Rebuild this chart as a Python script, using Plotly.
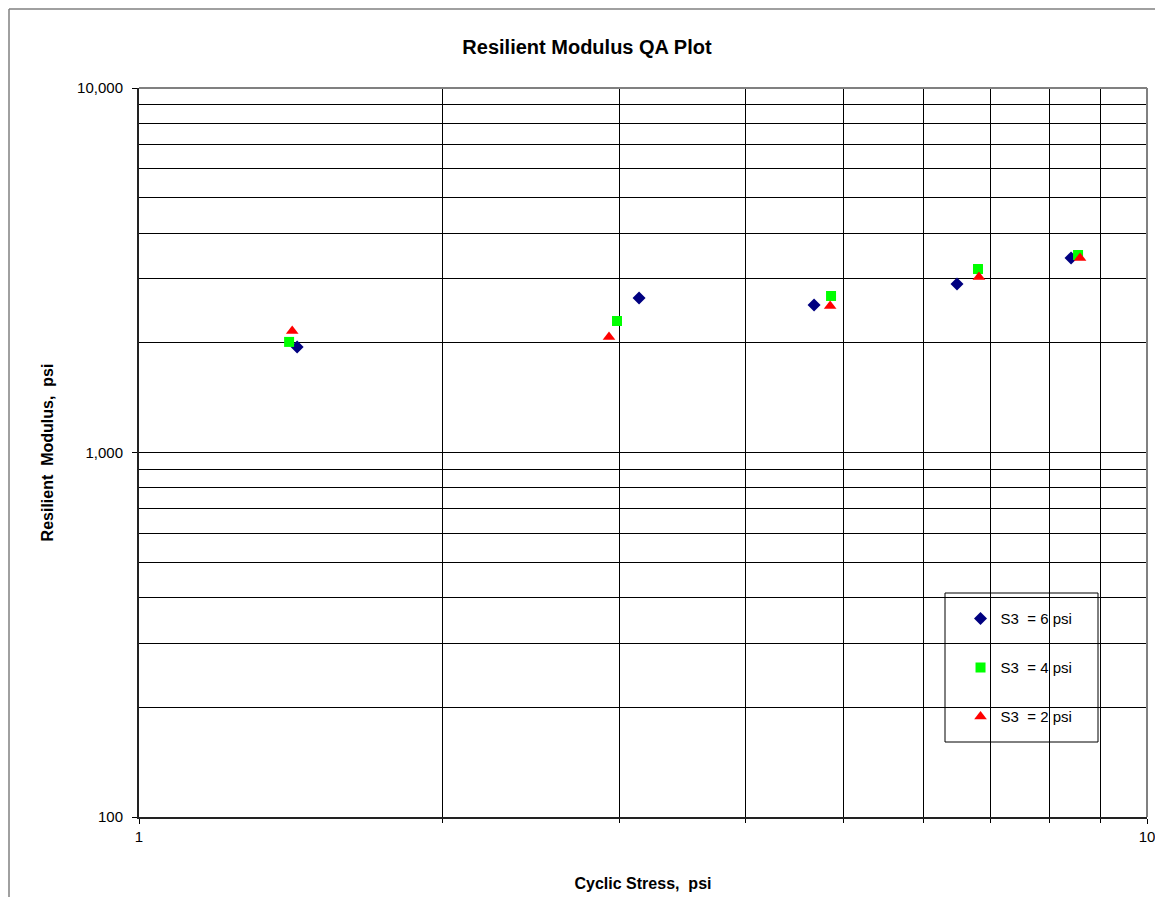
import plotly.graph_objects as go

# cyclic stress (psi) and resilient modulus (psi) per confining stress
s3_6_stress = [1.435, 3.134, 4.674, 6.479, 8.407]
s3_6_modulus = [1947, 2654, 2539, 2899, 3417]

s3_4_stress = [1.409, 2.980, 4.859, 6.797, 8.543]
s3_4_modulus = [2011, 2295, 2688, 3187, 3482]

s3_2_stress = [1.419, 2.926, 4.849, 6.812, 8.582]
s3_2_modulus = [2154, 2075, 2523, 3030, 3417]

x_ticks = [1, 10]
x_ticktext = ["1", "10"]
x_minor = [2, 3, 4, 5, 6, 7, 8, 9]
y_ticks = [100, 1000, 10000]
y_ticktext = ["100", "1,000", "10,000"]
y_minor = [m * d for d in (100, 1000) for m in range(2, 10)]

FONT = "Arial, Liberation Sans, sans-serif"
# page body has an 8px margin on every side; keep the figure inside the window
W, H = 1147, 889
OX, OY = 8, 8

fig = go.Figure()
series = [
    ("S3&nbsp; = 6 psi", s3_6_stress, s3_6_modulus, "diamond", "#000080", 10),
    ("S3&nbsp; = 4 psi", s3_4_stress, s3_4_modulus, "square", "#00FF00", 10),
    ("S3&nbsp; = 2 psi", s3_2_stress, s3_2_modulus, "triangle-up", "#FF0000", 11),
]
for name, xs, ys, symbol, color, size in series:
    fig.add_trace(
        go.Scatter(
            x=xs,
            y=ys,
            mode="markers",
            name=name,
            legendgroup=name,
            marker={"symbol": symbol, "color": color, "size": size, "line": {"width": 0}},
        )
    )

fig.update_layout(
    width=W,
    height=H,
    margin={"l": 139 - OX, "r": W - (1147 - OX), "t": 88 - OY, "b": H - (817 - OY)},
    paper_bgcolor="white",
    plot_bgcolor="white",
    font={"family": FONT, "size": 15, "color": "black"},
    title={
        "text": "<b>Resilient Modulus QA Plot</b>",
        "x": (587 - OX) / W,
        "xanchor": "center",
        "y": 1 - (47 - OY) / H,
        "yanchor": "middle",
        "font": {"size": 20},
    },
    legend={
        "x": 0.815,
        "y": 0.2945,
        "xanchor": "left",
        "yanchor": "top",
        "bgcolor": "rgba(0,0,0,0)",
        "borderwidth": 0,
        "tracegroupgap": 26.5,
        "font": {"size": 15},
    },
    xaxis={
        "type": "log",
        "range": [0, 1],
        "automargin": False,
        "tickvals": x_ticks,
        "ticktext": x_ticktext,
        "ticklabeloverflow": "allow",
        "ticks": "outside",
        "ticklen": 5,
        "tickcolor": "black",
        "showline": True,
        "linecolor": "#222",
        "linewidth": 2,
        "showgrid": True,
        "gridcolor": "black",
        "gridwidth": 1,
        "zeroline": False,
        "minor": {
            "tickvals": x_minor,
            "ticks": "outside",
            "ticklen": 4,
            "tickcolor": "black",
            "showgrid": True,
            "gridcolor": "black",
            "gridwidth": 1,
        },
        "title": {"text": "<b>Cyclic Stress,&nbsp; psi</b>", "font": {"size": 16}, "standoff": 34},
    },
    yaxis={
        "type": "log",
        "range": [2, 4],
        "automargin": False,
        "tickvals": y_ticks,
        "ticktext": y_ticktext,
        "ticklabeloverflow": "allow",
        "ticks": "outside",
        "ticklen": 5,
        "tickcolor": "black",
        "ticklabelstandoff": 6,
        "showline": True,
        "linecolor": "#222",
        "linewidth": 2,
        "showgrid": True,
        "gridcolor": "black",
        "gridwidth": 1,
        "zeroline": False,
        "minor": {
            "tickvals": y_minor,
            "ticks": "",
            "showgrid": True,
            "gridcolor": "black",
            "gridwidth": 1,
        },
        "title": {"text": "<b>Resilient&nbsp; Modulus,&nbsp; psi</b>", "font": {"size": 16}, "standoff": 20},
    },
    shapes=[
        # plot area top / right edges
        {"type": "line", "xref": "paper", "yref": "paper", "x0": 0, "x1": 1, "y0": 1, "y1": 1,
         "line": {"color": "#808080", "width": 2}},
        {"type": "line", "xref": "paper", "yref": "paper", "x0": 1, "x1": 1, "y0": 0, "y1": 1,
         "line": {"color": "#808080", "width": 2}},
        # legend box
        {"type": "rect", "xref": "paper", "yref": "paper",
         "x0": (945 - 139) / 1008, "x1": (1098 - 139) / 1008,
         "y0": (817 - 742) / 729, "y1": (817 - 593) / 729,
         "line": {"color": "black", "width": 1}, "fillcolor": "white", "layer": "below"},
        # chart area border (left and top edges, as far as the page allows)
        {"type": "line", "xref": "paper", "yref": "paper",
         "x0": (OX + 1 - 139) / 1008, "x1": (OX + 1 - 139) / 1008,
         "y0": (817 - OY - H) / 729, "y1": (817 - OY - 1) / 729,
         "line": {"color": "#808080", "width": 1.5}},
        {"type": "line", "xref": "paper", "yref": "paper",
         "x0": (OX + 1 - 139) / 1008, "x1": (OX + W - 139) / 1008,
         "y0": (817 - OY - 1) / 729, "y1": (817 - OY - 1) / 729,
         "line": {"color": "#808080", "width": 1.5}},
    ],
)

fig.write_html("out.html")
